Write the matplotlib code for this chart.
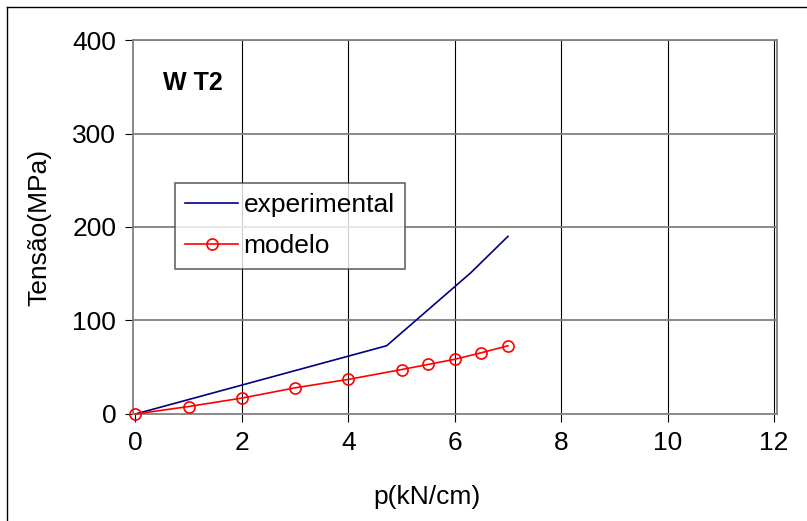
import matplotlib
matplotlib.use("Agg")
import matplotlib.pyplot as plt
from matplotlib.lines import Line2D

plt.rcParams["font.family"] = ["Liberation Sans", "DejaVu Sans"]

# experimental curve
p_exp = [0.0, 4.72, 6.3, 7.0]
t_exp = [0.0, 73.0, 151.0, 190.0]

# model curve
p_mod = [0.0, 1.0, 2.0, 3.0, 4.0, 5.0, 5.5, 6.0, 6.5, 7.0]
t_mod = [0.0, 8.0, 17.0, 28.0, 37.0, 47.5, 53.0, 58.5, 65.5, 73.0]

x_ticks = [0, 2, 4, 6, 8, 10, 12]
y_ticks = [0, 100, 200, 300, 400]

fig = plt.figure(figsize=(8.07, 5.21), dpi=100)
ax = fig.add_axes([0.1648, 0.2054, 0.798, 0.7178])

ax.plot(p_exp, t_exp, color="#000080", lw=1.2, label="experimental")
ax.plot(p_mod, t_mod, color="red", lw=1.2, marker="o", ms=8,
        mfc="none", mec="red", mew=1.2, label="modelo", clip_on=False,
        zorder=5)

ax.set_xlim(-0.047, 12.056)
ax.set_ylim(0, 400)
ax.set_xticks(x_ticks)
ax.set_yticks(y_ticks)

# vertical grid black, horizontal grid gray
for xv in x_ticks[1:]:
    ax.axvline(xv, color="black", lw=0.8, zorder=0)
for yv in y_ticks[1:]:
    ax.axhline(yv, color="#808080", lw=1.3, zorder=0)

for s in ax.spines.values():
    s.set_color("#808080")
    s.set_linewidth(1.3)

ax.tick_params(axis="both", direction="out", length=6, width=0.8,
               color="black", labelsize=19, pad=6)

ax.set_xlabel("p(kN/cm)", fontsize=19)
ax.set_ylabel("Tensão(MPa)", fontsize=19)
ax.xaxis.set_label_coords(0.457, -0.19)
ax.yaxis.set_label_coords(-0.127, 0.5)

ax.text(0.047, 0.885, "W T2", transform=ax.transAxes, fontsize=18,
        fontweight="bold", ha="left", va="center")

leg = ax.legend(loc="upper left", bbox_to_anchor=(0.065, 0.618), fontsize=19,
                frameon=True, fancybox=False, handlelength=2.0,
                borderpad=0.4, labelspacing=0.64, handletextpad=0.2,
                borderaxespad=0)
leg.get_frame().set_edgecolor("#404040")
leg.get_frame().set_linewidth(1.2)

# outer frame (top and left)
fig.add_artist(Line2D([7 / 807, 1], [1 - 7 / 521, 1 - 7 / 521],
                      transform=fig.transFigure, color="black", lw=1))
fig.add_artist(Line2D([7 / 807, 7 / 807], [0, 1 - 7 / 521],
                      transform=fig.transFigure, color="black", lw=1))

fig.savefig("out.png", dpi=100)
plt.close(fig)
